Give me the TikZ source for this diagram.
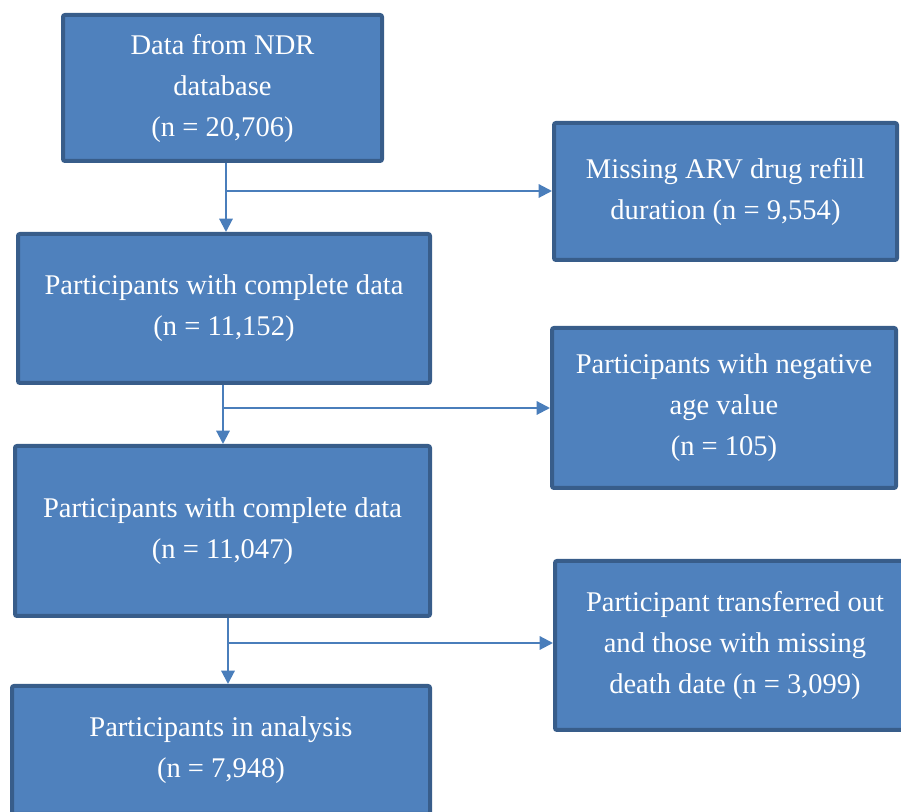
\documentclass[tikz,border=0pt]{standalone}
\usepackage{fontspec}
\setmainfont{Liberation Serif}
\usetikzlibrary{arrows.meta}
\definecolor{boxfill}{HTML}{4F81BD}
\definecolor{boxline}{HTML}{385D8A}
\definecolor{arrowc}{HTML}{4A7EBB}
\begin{document}
\begin{tikzpicture}[x=0.75pt,y=-0.75pt,
  flowbox/.style={draw=boxline, line width=3pt, fill=boxfill, text=white,
    align=center, font=\fontsize{21.4}{30.75}\selectfont,
    rounded corners=1.5pt, inner sep=0pt},
  flowarrow/.style={draw=arrowc, line width=1.6pt,
    -{Triangle[length=10pt,width=10pt]}}]
\useasboundingbox (0,0) rectangle (901,812);
% left column
\node[flowbox, minimum width=239.25pt, minimum height=109.5pt] (b1) at (222.5,88)
  {Data from NDR\\database\\(n = 20,706)};
\node[flowbox, minimum width=309pt, minimum height=111.75pt] (b2) at (224,308.5)
  {Participants with complete data\\(n = 11,152)};
\node[flowbox, minimum width=311.25pt, minimum height=127.5pt] (b3) at (222.5,531)
  {Participants with complete data\\(n = 11,047)};
\node[flowbox, minimum width=313.5pt, minimum height=96pt] (b4) at (221,750)
  {Participants in analysis\\(n = 7,948)};
% right column
\node[flowbox, minimum width=257.25pt, minimum height=102.75pt] (r1) at (725.5,191.5)
  {Missing ARV drug refill\\duration (n = 9,554)};
\node[flowbox, minimum width=258pt, minimum height=120pt] (r2) at (724,408)
  {Participants with negative\\age value\\(n = 105)};
\node[flowbox, minimum width=270pt, minimum height=126.75pt] (r3) at (735,645.5)
  {Participant transferred out\\and those with missing\\death date (n = 3,099)};
% junctions
\coordinate (j1) at (226,191);
\coordinate (j2) at (223,408);
\coordinate (j3) at (228,643);
% connectors
\draw[flowarrow] (b1.south -| j1) -- (b2.north -| j1);
\draw[flowarrow] (j1) -- (j1 -| r1.west);
\draw[flowarrow] (b2.south -| j2) -- (b3.north -| j2);
\draw[flowarrow] (j2) -- (j2 -| r2.west);
\draw[flowarrow] (b3.south -| j3) -- (b4.north -| j3);
\draw[flowarrow] (j3) -- (j3 -| r3.west);
\end{tikzpicture}
\end{document}
